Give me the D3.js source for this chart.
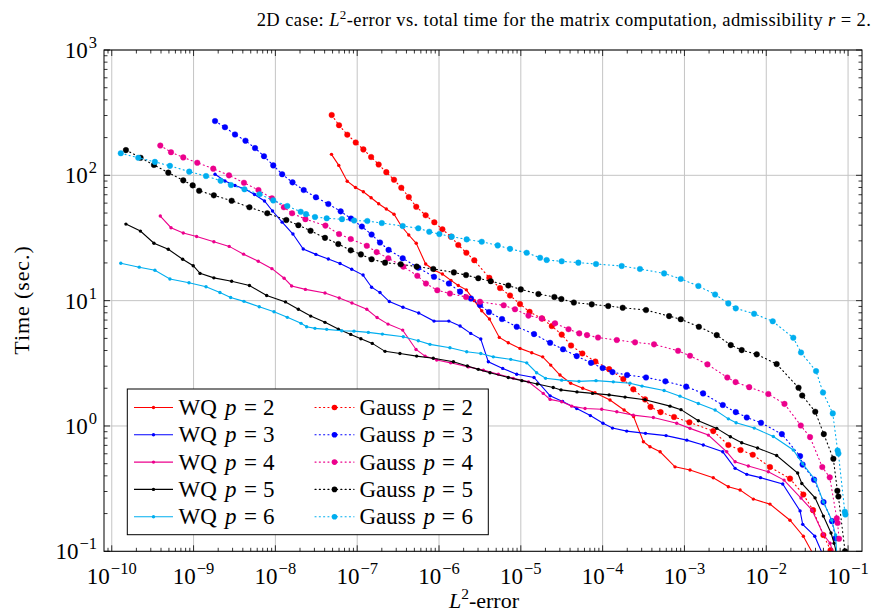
<!DOCTYPE html>
<html>
<head>
<meta charset="utf-8">
<script src="https://cdn.jsdelivr.net/npm/d3@7"></script>
<style>
  body { margin: 0; background: #fff; }
  svg { display: block; font-family: "Liberation Serif", "Times New Roman", serif; }
</style>
</head>
<body>
<div id="canvas"></div>
<script>
"use strict";

/* ---- data: L2-error (x) and total time in sec. (y) ---- */

// WQ p = 2
const wq2Err = [4.85e-8, 5.96e-8, 7.55e-8, 9.53e-8, 1.19e-7, 1.48e-7, 1.83e-7, 2.27e-7, 2.82e-7, 3.46e-7, 4.27e-7, 5.27e-7, 6.87e-7, 8.77e-7, 1.10e-6, 1.40e-6, 1.72e-6, 2.16e-6, 2.70e-6, 3.33e-6, 4.14e-6, 5.46e-6, 7.03e-6, 9.77e-6, 1.36e-5, 1.85e-5, 2.32e-5, 3.01e-5, 4.07e-5, 5.71e-5, 8.07e-5, 1.23e-4, 1.83e-4, 2.39e-4, 3.15e-4, 3.79e-4, 5.04e-4, 7.67e-4, 1.17e-3, 2.25e-3, 3.44e-3, 4.79e-3, 6.95e-3, 1.11e-2, 1.95e-2, 2.84e-2, 4.1e-2];
const wq2Time = [147, 120, 89.7, 80.0, 74.0, 66.3, 59.3, 53.8, 48.9, 39.4, 33.4, 28.7, 19.6, 17.5, 16.3, 14.5, 13.2, 12.2, 10.0, 8.30, 7.13, 5.09, 4.61, 4.16, 3.84, 3.56, 3.06, 2.55, 2.19, 2.00, 1.84, 1.61, 1.34, 1.19, 0.748, 0.683, 0.622, 0.472, 0.445, 0.386, 0.327, 0.308, 0.261, 0.238, 0.177, 0.132, 0.085];

// WQ p = 3
const wq3Err = [1.83e-9, 2.42e-9, 3.21e-9, 4.25e-9, 5.56e-9, 7.36e-9, 9.23e-9, 1.21e-8, 1.64e-8, 2.19e-8, 3.13e-8, 4.44e-8, 6.17e-8, 8.57e-8, 1.18e-7, 1.50e-7, 1.90e-7, 2.47e-7, 3.63e-7, 5.65e-7, 8.69e-7, 1.32e-6, 1.81e-6, 2.44e-6, 3.24e-6, 4.01e-6, 6.01e-6, 8.91e-6, 1.45e-5, 2.28e-5, 3.24e-5, 4.82e-5, 7.08e-5, 1.01e-4, 1.32e-4, 1.97e-4, 3.34e-4, 5.96e-4, 1.07e-3, 1.70e-3, 2.94e-3, 4.16e-3, 5.78e-3, 8.51e-3, 1.59e-2, 2.59e-2, 2.79e-2, 3.92e-2, 4.81e-2];
const wq3Time = [102, 90.1, 82.9, 77.8, 70.3, 62.4, 51.9, 42.3, 34.0, 25.8, 23.4, 21.5, 19.8, 17.8, 16.0, 12.8, 11.6, 9.84, 8.85, 7.96, 6.87, 6.87, 6.27, 5.48, 4.94, 3.25, 2.88, 2.59, 2.44, 1.74, 1.57, 1.38, 1.21, 1.05, 0.962, 0.91, 0.873, 0.838, 0.771, 0.705, 0.622, 0.459, 0.411, 0.387, 0.344, 0.210, 0.164, 0.132, 0.097];

// WQ p = 4
const wq4Err = [3.92e-10, 5.30e-10, 7.48e-10, 1.09e-9, 1.77e-9, 2.73e-9, 4.09e-9, 6.18e-9, 9.08e-9, 1.28e-8, 1.58e-8, 2.33e-8, 4.04e-8, 6.03e-8, 8.63e-8, 1.31e-7, 1.75e-7, 2.38e-7, 3.60e-7, 5.24e-7, 6.75e-7, 9.38e-7, 1.39e-6, 2.28e-6, 3.48e-6, 5.31e-6, 8.09e-6, 1.24e-5, 1.88e-5, 2.28e-5, 3.16e-5, 4.19e-5, 6.10e-5, 9.75e-5, 1.49e-4, 2.37e-4, 4.17e-4, 8.05e-4, 1.17e-3, 1.96e-3, 3.29e-3, 4.16e-3, 6.04e-3, 1.06e-2, 1.65e-2, 2.66e-2, 3.63e-2, 4.99e-2, 6.03e-2, 6.75e-2];
const wq4Time = [47.3, 38.2, 34.7, 32.5, 29.5, 27.1, 23.5, 20.6, 18.0, 15.1, 13.1, 12.3, 11.5, 10.5, 9.57, 8.53, 7.33, 6.50, 5.82, 4.08, 3.61, 3.36, 3.19, 2.96, 2.79, 2.59, 2.40, 2.25, 1.82, 1.63, 1.56, 1.44, 1.38, 1.36, 1.30, 1.22, 1.17, 1.05, 0.957, 0.846, 0.622, 0.518, 0.479, 0.431, 0.370, 0.266, 0.213, 0.136, 0.116, 0.092];

// WQ p = 5
const wq5Err = [1.49e-10, 2.24e-10, 3.28e-10, 4.91e-10, 7.36e-10, 9.9e-10, 1.20e-9, 1.77e-9, 2.92e-9, 4.82e-9, 7.83e-9, 1.33e-8, 1.91e-8, 2.70e-8, 4.04e-8, 5.87e-8, 8.34e-8, 1.11e-7, 1.53e-7, 2.19e-7, 3.33e-7, 5.33e-7, 8.51e-7, 1.50e-6, 2.22e-6, 3.02e-6, 4.20e-6, 7.03e-6, 1.03e-5, 1.59e-5, 2.49e-5, 3.10e-5, 4.86e-5, 7.53e-5, 1.20e-4, 1.88e-4, 3.30e-4, 6.67e-4, 9.08e-4, 1.48e-3, 2.48e-3, 3.64e-3, 5.01e-3, 7.83e-3, 1.34e-2, 2.42e-2, 2.72e-2, 3.95e-2, 4.99e-2, 6.19e-2, 6.75e-2, 7.35e-2];
const wq5Time = [40.8, 35.9, 28.7, 25.7, 21.4, 19.0, 16.5, 15.2, 14.3, 13.2, 11.0, 9.77, 8.53, 7.53, 6.71, 5.93, 5.38, 4.97, 4.56, 3.94, 3.79, 3.61, 3.47, 3.25, 3.01, 2.83, 2.66, 2.44, 2.30, 2.16, 2.03, 1.94, 1.87, 1.82, 1.77, 1.70, 1.62, 1.44, 1.35, 1.10, 0.957, 0.820, 0.735, 0.667, 0.581, 0.421, 0.348, 0.267, 0.191, 0.140, 0.116, 0.093];

// WQ p = 6
const wq6Err = [1.29e-10, 2.17e-10, 3.37e-10, 5.14e-10, 8.79e-10, 1.42e-9, 2.10e-9, 2.84e-9, 4.13e-9, 6.35e-9, 9.62e-9, 1.40e-8, 2.06e-8, 2.41e-8, 3.05e-8, 4.24e-8, 6.47e-8, 9.14e-8, 1.37e-7, 2.03e-7, 3.66e-7, 5.58e-7, 7.76e-7, 1.36e-6, 2.18e-6, 3.24e-6, 4.61e-6, 7.53e-6, 1.18e-5, 1.56e-5, 2.01e-5, 3.16e-5, 5.14e-5, 8.30e-5, 1.35e-4, 2.16e-4, 3.03e-4, 5.64e-4, 8.83e-4, 1.48e-3, 2.37e-3, 3.44e-3, 4.28e-3, 7.13e-3, 1.22e-2, 2.14e-2, 2.79e-2, 3.95e-2, 4.99e-2, 6.32e-2, 7.03e-2, 7.28e-2];
const wq6Time = [19.9, 18.5, 17.5, 14.9, 13.9, 12.9, 11.6, 10.6, 9.87, 8.94, 8.15, 7.36, 6.59, 6.19, 6.01, 5.90, 5.75, 5.71, 5.58, 5.41, 5.15, 4.79, 4.48, 4.21, 3.91, 3.79, 3.56, 3.40, 3.19, 2.66, 2.40, 2.32, 2.27, 2.30, 2.25, 2.19, 2.08, 1.92, 1.73, 1.51, 1.34, 1.14, 1.06, 0.962, 0.824, 0.643, 0.499, 0.373, 0.248, 0.177, 0.135, 0.093];

// Gauss p = 2
const gauss2Err = [4.88e-8, 6.0e-8, 7.57e-8, 9.6e-8, 1.19e-7, 1.48e-7, 1.83e-7, 2.27e-7, 2.82e-7, 3.46e-7, 4.27e-7, 5.27e-7, 6.87e-7, 8.77e-7, 1.10e-6, 1.40e-6, 1.72e-6, 2.16e-6, 2.70e-6, 4.12e-6, 5.57e-6, 7.38e-6, 9.77e-6, 1.28e-5, 1.82e-5, 2.39e-5, 3.16e-5, 4.11e-5, 5.65e-5, 8.15e-5, 1.20e-4, 1.79e-4, 2.37e-4, 3.30e-4, 3.85e-4, 5.11e-4, 7.46e-4, 1.15e-3, 2.25e-3, 3.44e-3, 4.85e-3, 6.84e-3, 1.11e-2, 1.95e-2, 2.84e-2, 3.73e-2, 4.99e-2, 6.11e-2];
const gauss2Time = [303, 251, 211, 183, 161, 140, 122, 106, 92.2, 79.6, 67.1, 56.1, 48.0, 42.2, 37.1, 32.4, 27.8, 24.1, 21.0, 15.2, 12.6, 11.0, 9.4, 8.14, 7.19, 6.27, 5.36, 4.39, 3.79, 3.27, 2.84, 2.37, 1.96, 1.63, 1.42, 1.29, 1.18, 1.07, 0.91, 0.705, 0.643, 0.589, 0.470, 0.380, 0.284, 0.213, 0.135, 0.102];

// Gauss p = 3
const gauss3Err = [1.83e-9, 2.42e-9, 3.21e-9, 4.31e-9, 5.64e-9, 7.26e-9, 9.42e-9, 1.21e-8, 1.62e-8, 2.22e-8, 3.13e-8, 4.44e-8, 6.28e-8, 8.39e-8, 1.14e-7, 1.50e-7, 1.90e-7, 2.42e-7, 3.60e-7, 5.58e-7, 8.69e-7, 1.32e-6, 1.81e-6, 2.46e-6, 3.17e-6, 4.08e-6, 5.89e-6, 8.91e-6, 1.45e-5, 2.28e-5, 3.28e-5, 4.82e-5, 7.21e-5, 1.00e-4, 1.32e-4, 1.99e-4, 3.39e-4, 5.85e-4, 1.05e-3, 1.69e-3, 2.94e-3, 4.24e-3, 5.78e-3, 8.63e-3, 1.55e-2, 2.59e-2, 2.78e-2, 3.84e-2, 5.01e-2, 6.37e-2, 7.03e-2];
const gauss3Time = [271, 242, 212, 189, 165, 142, 120, 102, 87.9, 76.3, 66.8, 59.0, 51.6, 45.2, 39.0, 33.7, 29.1, 25.4, 21.8, 18.3, 15.5, 13.7, 11.8, 10.4, 9.22, 8.11, 7.13, 6.19, 5.41, 4.61, 4.09, 3.61, 3.19, 2.90, 2.69, 2.55, 2.44, 2.27, 2.06, 1.82, 1.47, 1.29, 1.17, 1.06, 0.861, 0.575, 0.492, 0.373, 0.247, 0.174, 0.127];

// Gauss p = 4
const gauss4Err = [3.92e-10, 5.30e-10, 7.48e-10, 1.11e-9, 1.74e-9, 2.71e-9, 4.13e-9, 6.21e-9, 9.08e-9, 1.27e-8, 1.60e-8, 2.33e-8, 4.09e-8, 6.0e-8, 8.34e-8, 1.31e-7, 1.73e-7, 2.40e-7, 3.66e-7, 5.43e-7, 6.93e-7, 9.53e-7, 1.36e-6, 2.14e-6, 3.17e-6, 6.18e-6, 8.49e-6, 1.24e-5, 1.80e-5, 2.62e-5, 3.83e-5, 5.18e-5, 6.44e-5, 8.79e-5, 1.49e-4, 2.49e-4, 4.25e-4, 8.36e-4, 1.17e-3, 1.91e-3, 3.34e-3, 4.22e-3, 6.19e-3, 1.06e-2, 1.67e-2, 2.64e-2, 3.43e-2, 4.84e-2, 5.97e-2, 7.28e-2, 7.45e-2, 7.76e-2];
const gauss4Time = [173, 153, 139, 126, 113, 100, 87.3, 76.3, 65.5, 55.6, 49.8, 44.7, 39.7, 34.0, 31.0, 27.4, 24.4, 21.8, 18.7, 15.8, 13.7, 12.1, 11.4, 10.7, 9.80, 9.18, 8.53, 7.60, 7.22, 6.59, 5.92, 5.48, 5.31, 5.08, 4.85, 4.65, 4.48, 3.98, 3.63, 3.10, 2.44, 2.24, 2.04, 1.80, 1.50, 1.01, 0.815, 0.470, 0.389, 0.183, 0.168, 0.126];

// Gauss p = 5
const gauss5Err = [1.49e-10, 2.25e-10, 3.28e-10, 4.91e-10, 7.48e-10, 9.75e-10, 1.17e-9, 1.77e-9, 2.92e-9, 4.82e-9, 7.96e-9, 1.36e-8, 1.91e-8, 2.69e-8, 4.04e-8, 5.87e-8, 8.34e-8, 1.11e-7, 1.50e-7, 2.19e-7, 3.40e-7, 5.33e-7, 8.51e-7, 1.52e-6, 2.14e-6, 3.02e-6, 4.29e-6, 7.03e-6, 1.0e-5, 1.64e-5, 2.57e-5, 3.13e-5, 4.45e-5, 7.36e-5, 1.17e-4, 1.76e-4, 3.39e-4, 6.49e-4, 9.02e-4, 1.50e-3, 2.48e-3, 3.68e-3, 5.01e-3, 7.65e-3, 1.34e-2, 2.48e-2, 2.75e-2, 3.97e-2, 5.05e-2, 6.61e-2, 7.40e-2, 7.62e-2, 9.18e-2];
const gauss5Time = [159, 138, 121, 105, 91.2, 83.2, 75.4, 69.2, 62.7, 55.6, 49.8, 44.0, 40.0, 36.1, 31.7, 28.3, 25.2, 23.4, 21.4, 20.1, 19.5, 18.7, 17.9, 16.8, 16.0, 15.1, 14.3, 13.2, 12.3, 11.3, 10.7, 10.3, 9.66, 9.34, 9.06, 8.78, 8.41, 7.53, 7.10, 6.19, 5.31, 4.42, 4.03, 3.73, 3.12, 2.02, 1.75, 1.30, 0.861, 0.547, 0.304, 0.274, 0.1];

// Gauss p = 6
const gauss6Err = [1.29e-10, 2.11e-10, 3.37e-10, 5.14e-10, 8.85e-10, 1.42e-9, 2.14e-9, 2.86e-9, 4.19e-9, 6.41e-9, 9.42e-9, 1.40e-8, 2.04e-8, 2.37e-8, 3.05e-8, 4.24e-8, 6.52e-8, 9.18e-8, 1.33e-7, 2.0e-7, 3.60e-7, 5.58e-7, 7.60e-7, 1.01e-6, 1.43e-6, 2.18e-6, 3.33e-6, 5.22e-6, 7.38e-6, 1.18e-5, 1.72e-5, 2.07e-5, 3.16e-5, 5.05e-5, 8.30e-5, 1.71e-4, 2.86e-4, 5.64e-4, 9.02e-4, 1.48e-3, 2.37e-3, 3.44e-3, 4.24e-3, 7.10e-3, 1.20e-2, 2.14e-2, 2.66e-2, 4.06e-2, 4.94e-2, 6.50e-2, 7.45e-2, 7.62e-2, 9.12e-2, 9.27e-2];
const gauss6Time = [150, 138, 128, 119, 107, 98.7, 90.6, 83.7, 77.4, 70.6, 63.1, 56.9, 51.2, 49.0, 46.5, 45.4, 44.7, 43.6, 43.2, 41.6, 39.4, 37.8, 35.5, 34.0, 32.4, 30.8, 29.5, 27.6, 25.9, 24.1, 22.0, 21.1, 20.6, 20.1, 19.6, 18.9, 17.9, 16.5, 14.9, 13.1, 11.2, 9.51, 8.68, 7.86, 6.84, 5.06, 3.86, 2.74, 1.85, 1.26, 0.637, 0.603, 0.207, 0.197];

// legend order and tick labels (powers of ten)
const orders = [2, 3, 4, 5, 6];
const xTickExps = [-10, -9, -8, -7, -6, -5, -4, -3, -2, -1];
const yTickExps = [-1, 0, 1, 2, 3];

/* ---- drawing config ---- */
const svgWidth = 878;
const svgHeight = 615;
const plot = { left: 104, right: 862, top: 50, bottom: 551.3 };
const xDomain = [8.04e-11, 0.148];
const yDomain = [0.1, 1000];

const colorFor = { 2: "#ff0000", 3: "#0000ff", 4: "#ec008c", 5: "#000000", 6: "#00aeef" };

const wqData = { 2: [wq2Err, wq2Time], 3: [wq3Err, wq3Time], 4: [wq4Err, wq4Time], 5: [wq5Err, wq5Time], 6: [wq6Err, wq6Time] };
const gaussData = { 2: [gauss2Err, gauss2Time], 3: [gauss3Err, gauss3Time], 4: [gauss4Err, gauss4Time], 5: [gauss5Err, gauss5Time], 6: [gauss6Err, gauss6Time] };

// plotting order: WQ p, Gauss p, WQ p+1, ...
const series = [];
orders.forEach(p => {
  series.push({ p: p, kind: "WQ", dotted: false, pts: d3.zip(wqData[p][0], wqData[p][1]) });
  series.push({ p: p, kind: "Gauss", dotted: true, pts: d3.zip(gaussData[p][0], gaussData[p][1]) });
});

const svg = d3.select("#canvas").append("svg")
  .attr("width", svgWidth)
  .attr("height", svgHeight);

const x = d3.scaleLog().domain(xDomain).range([plot.left, plot.right]);
const y = d3.scaleLog().domain(yDomain).range([plot.bottom, plot.top]);

svg.append("defs").append("clipPath").attr("id", "clip")
  .append("rect")
  .attr("x", plot.left).attr("y", plot.top)
  .attr("width", plot.right - plot.left).attr("height", plot.bottom - plot.top);

// major grid
const grid = svg.append("g").attr("stroke", "#c4c4c4").attr("stroke-width", 1);
xTickExps.forEach(e => {
  const px = x(Math.pow(10, e));
  grid.append("line").attr("x1", px).attr("x2", px).attr("y1", plot.top).attr("y2", plot.bottom);
});
yTickExps.forEach(e => {
  const py = y(Math.pow(10, e));
  grid.append("line").attr("y1", py).attr("y2", py).attr("x1", plot.left).attr("x2", plot.right);
});

// ticks, drawn inward on all four sides
const ticks = svg.append("g").attr("stroke", "#000").attr("stroke-width", 0.8);
function tickValues(scale, lo, hi) {
  const out = [];
  for (let e = lo; e <= hi; e++) {
    for (let m = 1; m <= 9; m++) {
      const v = m * Math.pow(10, e);
      const d = scale.domain();
      if (v >= d[0] * 0.999 && v <= d[1] * 1.001) out.push({ v: v, major: m === 1 });
    }
  }
  return out;
}
tickValues(x, -11, -1).forEach(t => {
  const px = x(t.v), len = t.major ? 6 : 3.5;
  ticks.append("line").attr("x1", px).attr("x2", px).attr("y1", plot.bottom).attr("y2", plot.bottom - len);
  ticks.append("line").attr("x1", px).attr("x2", px).attr("y1", plot.top).attr("y2", plot.top + len);
});
tickValues(y, -1, 3).forEach(t => {
  const py = y(t.v), len = t.major ? 6 : 3.5;
  ticks.append("line").attr("y1", py).attr("y2", py).attr("x1", plot.left).attr("x2", plot.left + len);
  ticks.append("line").attr("y1", py).attr("y2", py).attr("x1", plot.right).attr("x2", plot.right - len);
});

// series
const line = d3.line().x(d => x(d[0])).y(d => y(d[1]));
const layer = svg.append("g").attr("clip-path", "url(#clip)");
series.forEach(s => {
  const c = colorFor[s.p];
  layer.append("path")
    .attr("d", line(s.pts))
    .attr("fill", "none")
    .attr("stroke", c)
    .attr("stroke-width", 1.1)
    .attr("stroke-dasharray", s.dotted ? "1.1,3.2" : null)
    .attr("stroke-linecap", s.dotted ? "round" : "butt");
  layer.selectAll(null).data(s.pts).enter().append("circle")
    .attr("cx", d => x(d[0]))
    .attr("cy", d => y(d[1]))
    .attr("r", s.dotted ? 2.8 : 1.7)
    .attr("fill", c)
    .attr("stroke", c)
    .attr("stroke-opacity", s.dotted ? 0.45 : 0)
    .attr("stroke-width", 0.9);
});

// frame
svg.append("rect")
  .attr("x", plot.left).attr("y", plot.top)
  .attr("width", plot.right - plot.left).attr("height", plot.bottom - plot.top)
  .attr("fill", "none").attr("stroke", "#000").attr("stroke-width", 1);

// tick labels
const labelSize = 23;
const supSize = 16.5;
xTickExps.forEach(e => {
  const t = svg.append("text")
    .attr("x", x(Math.pow(10, e)))
    .attr("y", 584)
    .attr("text-anchor", "middle")
    .attr("font-size", labelSize);
  t.append("tspan").text("10");
  t.append("tspan").attr("dx", 1).attr("dy", -10).attr("font-size", supSize).text("\u2212" + Math.abs(e));
});
yTickExps.forEach(e => {
  const t = svg.append("text")
    .attr("x", 97)
    .attr("y", y(Math.pow(10, e)) + 8)
    .attr("text-anchor", "end")
    .attr("font-size", labelSize);
  t.append("tspan").text("10");
  t.append("tspan").attr("dx", 1).attr("dy", -10).attr("font-size", supSize).text(e < 0 ? "\u2212" + Math.abs(e) : String(e));
});

// axis labels
const xl = svg.append("text")
  .attr("x", 484).attr("y", 608)
  .attr("text-anchor", "middle")
  .attr("font-size", 22);
xl.append("tspan").attr("font-style", "italic").text("L");
xl.append("tspan").attr("dy", -9).attr("font-size", 15.5).text("2");
xl.append("tspan").attr("dy", 9).text("-error");

svg.append("text")
  .attr("transform", "translate(29,300) rotate(-90)")
  .attr("text-anchor", "middle")
  .attr("font-size", 22)
  .attr("letter-spacing", 0.9)
  .text("Time (sec.)");

// title
const title = svg.append("text")
  .attr("x", 564).attr("y", 26)
  .attr("text-anchor", "middle")
  .attr("font-size", 18.5)
  .attr("letter-spacing", 0.4);
title.append("tspan").text("2D case: ");
title.append("tspan").attr("font-style", "italic").text("L");
title.append("tspan").attr("dy", -7).attr("font-size", 13).text("2");
title.append("tspan").attr("dy", 7).text("-error vs. total time for the matrix computation, admissibility ");
title.append("tspan").attr("font-style", "italic").text("r");
title.append("tspan").text(" = 2.");

// legend
const legend = svg.append("g");
legend.append("rect")
  .attr("x", 127.3).attr("y", 389)
  .attr("width", 361).attr("height", 145.7)
  .attr("fill", "#fff").attr("stroke", "#000").attr("stroke-width", 1);

// offsets of "p", "=" and the digit from the start of each entry's text
const legendSize = 23;
const legendCols = [
  { kind: "WQ", dotted: false, lineX: 134, textX: 178.5, pX: 46.5, eqX: 65.5, nX: 84.5 },
  { kind: "Gauss", dotted: true, lineX: 315, textX: 359.5, pX: 64, eqX: 82.5, nX: 102 }
];
legendCols.forEach(col => {
  orders.forEach((p, i) => {
    const cy = 407.5 + i * 27.3;
    const c = colorFor[p];
    legend.append("line")
      .attr("x1", col.lineX).attr("x2", col.lineX + 39)
      .attr("y1", cy).attr("y2", cy)
      .attr("stroke", c).attr("stroke-width", 1.1)
      .attr("stroke-dasharray", col.dotted ? "1.1,3.2" : null)
      .attr("stroke-linecap", col.dotted ? "round" : "butt");
    legend.append("circle")
      .attr("cx", col.lineX + 19.5).attr("cy", cy)
      .attr("r", col.dotted ? 2.8 : 1.7)
      .attr("fill", c);
    const ty = cy + 7.5;
    legend.append("text").attr("x", col.textX).attr("y", ty).attr("font-size", legendSize).text(col.kind);
    legend.append("text").attr("x", col.textX + col.pX).attr("y", ty).attr("font-size", legendSize)
      .attr("font-style", "italic").text("p");
    legend.append("text").attr("x", col.textX + col.eqX).attr("y", ty).attr("font-size", legendSize).text("=");
    legend.append("text").attr("x", col.textX + col.nX).attr("y", ty).attr("font-size", legendSize).text(p);
  });
});
</script>
</body>
</html>
